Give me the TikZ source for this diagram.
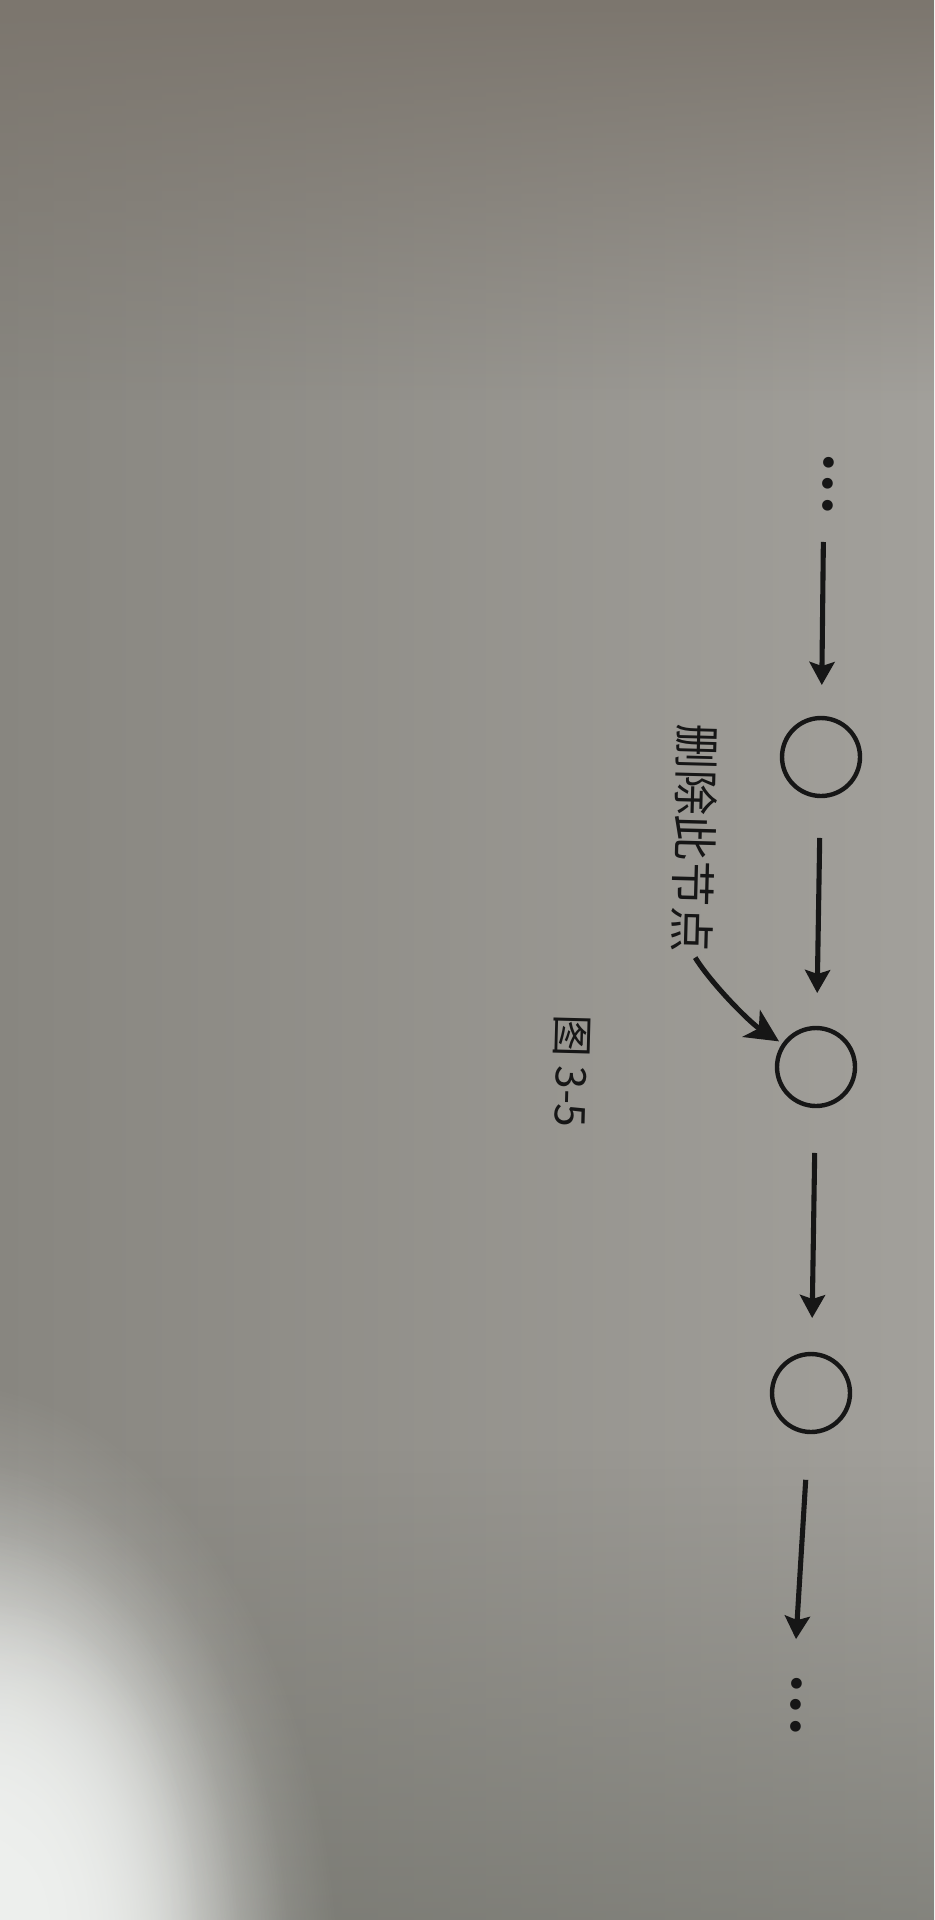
\documentclass[tikz,border=0pt]{standalone}
\usepackage{fontspec}
\newfontfamily\cjk{Noto Sans CJK SC}
\newfontfamily\dejavu{DejaVu Sans}
\usetikzlibrary{arrows.meta,fadings}
\tikzfading[name=softglow,inner color=transparent!0,outer color=transparent!100]
\definecolor{bgL}{RGB}{136,134,128}
\definecolor{bgR}{RGB}{162,160,155}
\definecolor{bgTop}{RGB}{124,118,110}
\definecolor{bgBot}{RGB}{112,113,106}
\definecolor{glare}{RGB}{238,240,238}
\definecolor{ink}{RGB}{22,22,22}
\begin{document}
\begin{tikzpicture}[x=0.02cm,y=-0.02cm,
  listnode/.style={circle,draw=ink,line width=2.5pt,minimum size=1.56cm,inner sep=0pt,outer sep=0pt},
  dotsnode/.style={text=ink,font=\dejavu\fontsize{21pt}{21pt}\selectfont,rotate=-91.5,inner sep=0pt},
  linkarr/.style={draw=ink,line width=2.9pt,-{Stealth[length=0.46cm,width=0.5cm,inset=0.08cm]}},
  notearr/.style={draw=ink,line width=2.9pt,-{Stealth[length=0.66cm,width=0.64cm,inset=0.18cm]}},
  labeltext/.style={text=ink,font=\cjk\fontsize{26pt}{26pt}\selectfont,rotate=-91.5,inner sep=0pt},
  captiontext/.style={text=ink,font=\cjk\fontsize{24pt}{24pt}\selectfont,rotate=-91.5,inner sep=0pt}]
\useasboundingbox (0,0) rectangle (934,1920);
% photographed page background
\shade[left color=bgL,right color=bgR] (0,0) rectangle (934,1920);
\fill[bgTop,path fading=south] (0,0) rectangle (934,400);
\fill[bgBot,path fading=north,opacity=0.6] (0,1450) rectangle (934,1920);
\fill[glare,path fading=softglow] (-60,2000) ellipse [x radius=400, y radius=620];
\fill[glare,path fading=softglow] (-40,1980) ellipse [x radius=330, y radius=520];
\fill[glare,path fading=softglow] (-20,1950) ellipse [x radius=260, y radius=420];
\fill[glare,path fading=softglow] (0,1930) ellipse [x radius=200, y radius=330];
% list
\node[dotsnode] (dt) at (824,484) {•••};
\node[listnode] (c1) at (821,757) {};
\node[listnode] (c2) at (816,1067) {};
\node[listnode] (c3) at (811,1393) {};
\node[dotsnode] (db) at (792,1705) {•••};
\draw[linkarr,shorten <=0.5cm,shorten >=0.66cm] (dt) -- (c1);
\draw[linkarr,shorten <=0.84cm,shorten >=0.70cm] (c1) -- (c2);
\draw[linkarr,shorten <=0.94cm,shorten >=0.72cm] (c2) -- (c3);
\draw[linkarr,shorten <=0.96cm,shorten >=0.66cm] (c3) -- (db);
% annotation
\node[labeltext] (lbl) at (695,838) {删除此节点};
\draw[notearr,shorten <=0.12cm,shorten >=0.12cm] (lbl.east) .. controls +(20,32) and +(-34,-22) .. (c2.145);
% caption
\node[captiontext] (cap) at (571,1071) {图 3-5};
\end{tikzpicture}
\end{document}
